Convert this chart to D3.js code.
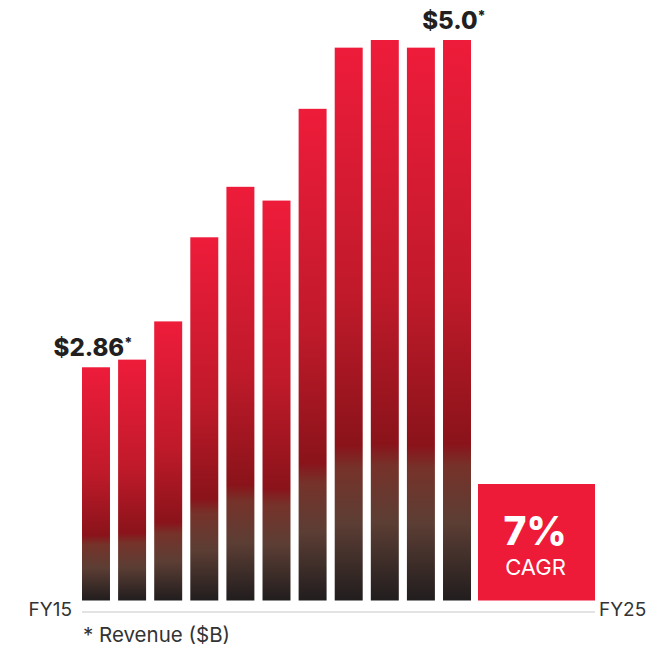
<!DOCTYPE html>
<html>
<head>
<meta charset="utf-8">
<script src="https://cdn.jsdelivr.net/npm/d3@7"></script>
<style>
  body { margin: 0; background: #fff; }
  text { font-family: Inter, "Noto Sans", sans-serif; }
</style>
</head>
<body>
<script>
var years = ["FY15", "FY16", "FY17", "FY18", "FY19", "FY20", "FY21", "FY22", "FY23", "FY24", "FY25"];
var revenue = [2.86, 2.91, 3.16, 3.71, 4.04, 3.95, 4.55, 4.95, 5.0, 4.95, 5.0];
var firstLabel = "$2.86";
var lastLabel = "$5.0";
var cagrValue = "7%";
var cagrText = "CAGR";
var note = "* Revenue ($B)";

var svgWidth = 667;
var svgHeight = 650;
var baseY = 600.5;

var svg = d3.select("body")
  .append("svg")
  .attr("width", svgWidth)
  .attr("height", svgHeight);

// bar gradient, per bar
var grad = svg.append("defs")
  .append("linearGradient")
  .attr("id", "barGrad")
  .attr("x1", 0).attr("y1", 0)
  .attr("x2", 0).attr("y2", 1);
[[0, "#ee1c3a"], [0.45, "#c01a2a"], [0.72, "#8a131a"], [0.76, "#76322a"],
 [0.86, "#5c3e34"], [1, "#211d1e"]].forEach(function(s) {
  grad.append("stop").attr("offset", s[0]).attr("stop-color", s[1]);
});

var xScale = d3.scaleBand()
  .domain(years)
  .range([82, 471])
  .paddingInner(0.225)
  .paddingOuter(0);

var yScale = d3.scaleLinear()
  .domain([1.335, 5.0])
  .range([baseY, 40]);

svg.selectAll(".bar")
  .data(revenue)
  .enter()
  .append("rect")
  .attr("class", "bar")
  .attr("x", function(d, i) { return xScale(years[i]); })
  .attr("y", function(d) { return yScale(d); })
  .attr("width", xScale.bandwidth())
  .attr("height", function(d) { return baseY - yScale(d); })
  .attr("fill", "url(#barGrad)");

// value labels on first and last bar
function valueLabel(i, txt) {
  var t = svg.append("text")
    .attr("x", xScale(years[i]) + xScale.bandwidth() / 2 - 3)
    .attr("y", yScale(revenue[i]) - 11)
    .attr("text-anchor", "middle")
    .attr("font-size", 24)
    .attr("font-weight", 800)
    .attr("fill", "#231f20")
    .text(txt);
  t.append("tspan")
    .attr("font-size", 14)
    .attr("dy", -8)
    .text("*");
}
valueLabel(0, firstLabel);
valueLabel(revenue.length - 1, lastLabel);

// CAGR box
svg.append("rect")
  .attr("x", 478)
  .attr("y", 484)
  .attr("width", 117)
  .attr("height", 116.5)
  .attr("fill", "#ed1b38");

svg.append("text")
  .attr("x", 535)
  .attr("y", 545)
  .attr("text-anchor", "middle")
  .attr("font-size", 39)
  .attr("font-weight", 800)
  .attr("fill", "#fff")
  .text(cagrValue);

svg.append("text")
  .attr("x", 535.5)
  .attr("y", 575)
  .attr("text-anchor", "middle")
  .attr("font-size", 22)
  .attr("fill", "#fff")
  .text(cagrText);

// axis line
svg.append("line")
  .attr("x1", 82).attr("x2", 595)
  .attr("y1", 612).attr("y2", 612)
  .attr("stroke", "#c8c8c8")
  .attr("stroke-width", 1.2);

svg.append("text")
  .attr("x", 72)
  .attr("y", 616)
  .attr("text-anchor", "end")
  .attr("font-size", 19)
  .attr("fill", "#333")
  .text(years[0]);

svg.append("text")
  .attr("x", 599)
  .attr("y", 616)
  .attr("font-size", 19)
  .attr("fill", "#333")
  .text(years[years.length - 1]);

svg.append("text")
  .attr("x", 83)
  .attr("y", 642)
  .attr("font-size", 20.5)
  .attr("fill", "#333")
  .text(note);
</script>
</body>
</html>
